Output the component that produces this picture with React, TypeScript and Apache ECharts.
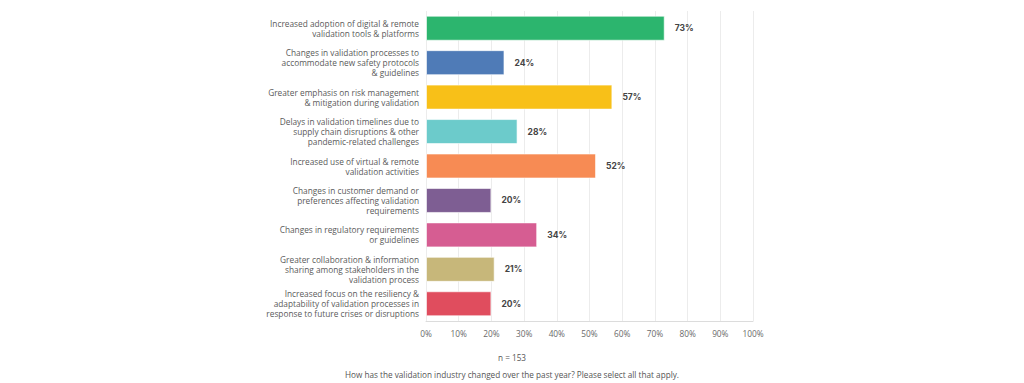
import React, { useEffect, useRef } from "react";
import * as echarts from "echarts";

const categories = [
  "Increased adoption of digital & remote\nvalidation tools & platforms",
  "Changes in validation processes to\naccommodate new safety protocols\n& guidelines",
  "Greater emphasis on risk management\n& mitigation during validation",
  "Delays in validation timelines due to\nsupply chain disruptions & other\npandemic-related challenges",
  "Increased use of virtual & remote\nvalidation activities",
  "Changes in customer demand or\npreferences affecting validation\nrequirements",
  "Changes in regulatory requirements\nor guidelines",
  "Greater collaboration & information\nsharing among stakeholders in the\nvalidation process",
  "Increased focus on the resiliency &\nadaptability of validation processes in\nresponse to future crises or disruptions",
];
const values = [73, 24, 57, 28, 52, 20, 34, 21, 20];
const colors = [
  "#2cb56e",
  "#4f7bb7",
  "#f8c018",
  "#6ccbcb",
  "#f78b54",
  "#7e5e93",
  "#d65d92",
  "#c7b77a",
  "#e04d5e",
];
const sampleNote = "n = 153";
const question =
  "How has the validation industry changed over the past year? Please select all that apply.";

export default function App() {
  const ref = useRef<HTMLDivElement>(null);
  useEffect(() => {
    if (!ref.current) return;
    const chart = echarts.init(ref.current, undefined, { renderer: "svg" });
    chart.setOption({
      animation: false,
      backgroundColor: "#ffffff",
      grid: { left: 426, right: 271, top: 11, bottom: 62, containLabel: false },
      xAxis: {
        type: "value",
        min: 0,
        max: 100,
        interval: 10,
        axisLine: { show: true, lineStyle: { color: "#dcdcdc" } },
        axisTick: { show: false },
        splitLine: { show: true, lineStyle: { color: "#ececec", width: 1 } },
        axisLabel: {
          formatter: "{value}%",
          color: "#6a6a6a",
          fontFamily: "Open Sans",
          fontSize: 8.3,
          margin: 8,
        },
      },
      yAxis: {
        type: "category",
        inverse: true,
        data: categories,
        axisLine: { show: false },
        axisTick: { show: false },
        axisLabel: {
          color: "#5a5a5a",
          fontFamily: "Open Sans",
          fontSize: 8.3,
          lineHeight: 10,
          align: "right",
          margin: 7,
        },
      },
      series: [
        {
          type: "bar",
          barWidth: 25,
          data: values.map((v, i) => ({
            value: v,
            itemStyle: {
              color: colors[i],
              borderColor: "rgba(255,255,255,0.6)",
              borderWidth: 1,
            },
          })),
          label: {
            show: true,
            position: "right",
            distance: 10,
            formatter: "{c}%",
            color: "#444444",
            fontFamily: "Inter",
            fontWeight: "bold",
            fontSize: 8.5,
          },
        },
      ],
      graphic: [
        {
          type: "text",
          left: "center",
          top: 353,
          style: {
            text: sampleNote,
            fill: "#555555",
            font: "8.2px 'Open Sans'",
          },
        },
        {
          type: "text",
          left: "center",
          top: 370,
          style: {
            text: question,
            fill: "#555555",
            font: "8.2px 'Open Sans'",
          },
        },
      ],
    });
    return () => chart.dispose();
  }, []);
  return (
    <div
      ref={ref}
      style={{ position: "fixed", left: 0, top: 0, width: 1024, height: 383 }}
    />
  );
}
